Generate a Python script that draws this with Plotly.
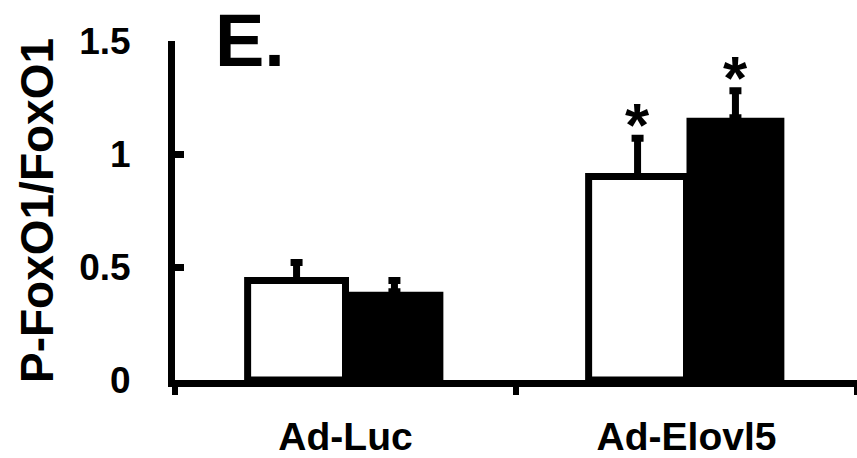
import plotly.graph_objects as go

# Phospho-FoxO1 / total FoxO1 ratio, two groups per adenovirus treatment
categories = ["Ad-Luc", "Ad-Elovl5"]
open_means = [0.44, 0.90]
open_sem = [0.08, 0.17]
filled_means = [0.39, 1.16]
filled_sem = [0.05, 0.12]
open_marks = ["", "*"]
filled_marks = ["", "*"]

y_tick_vals = [0, 0.5, 1, 1.5]
y_tick_text = ["0", "0.5", "1", "1.5"]

FONT = "Liberation Sans, Arial, sans-serif"
BW = 0.287  # bar width in category units

fig = go.Figure()

# filled bars sit right of centre; drawn first so the open bar outline lies on top
fig.add_trace(go.Bar(
    x=categories, y=filled_means, width=BW, offset=0,
    marker=dict(color="black", line=dict(color="black", width=0)),
    error_y=dict(type="data", array=filled_sem, arrayminus=[0] * len(filled_sem),
                 symmetric=False, color="black", thickness=7, width=6),
    showlegend=False,
))
fig.add_trace(go.Bar(
    x=categories, y=open_means, width=BW, offset=-BW,
    marker=dict(color="white", line=dict(color="black", width=7)),
    error_y=dict(type="data", array=open_sem, arrayminus=[0] * len(open_sem),
                 symmetric=False, color="black", thickness=7, width=6),
    showlegend=False,
))

annotations = []
for i, cat in enumerate(categories):
    for mark, mean, sem, shift in ((open_marks[i], open_means[i], open_sem[i], -BW / 2),
                                   (filled_marks[i], filled_means[i], filled_sem[i], BW / 2)):
        if mark:
            annotations.append(dict(
                x=i + shift, y=mean + sem, xref="x", yref="y",
                text=mark, showarrow=False, yanchor="bottom", yshift=-23,
                font=dict(family=FONT, size=62, color="black", weight="bold"),
            ))

# panel letter
annotations.append(dict(
    x=0.056, y=1.13, xref="paper", yref="paper", xanchor="left", yanchor="top",
    text="E.", showarrow=False,
    font=dict(family=FONT, size=74, color="black", weight="bold"),
))

fig.update_layout(
    width=857, height=458,
    margin=dict(l=175, r=0, t=41, b=72),
    paper_bgcolor="white", plot_bgcolor="white",
    barmode="overlay",
    annotations=annotations,
    font=dict(family=FONT, color="black"),
    xaxis=dict(
        type="category", range=[-0.5, 1.5], tickson="boundaries",
        ticks="outside", ticklen=8, tickwidth=6, tickcolor="black",
        showline=True, linewidth=7, linecolor="black",
        showgrid=False, zeroline=False,
        tickfont=dict(family=FONT, size=39, color="black", weight="bold"),
        ticklabelstandoff=16,
    ),
    yaxis=dict(
        range=[0, 1.5], tickvals=y_tick_vals, ticktext=y_tick_text,
        ticks="inside", ticklen=9, tickwidth=7, tickcolor="black",
        showline=True, linewidth=7, linecolor="black",
        showgrid=False, zeroline=False,
        tickfont=dict(family=FONT, size=37, color="black", weight="bold"),
        ticklabelstandoff=30,
        title=dict(text="P-FoxO1/FoxO1", standoff=14,
                   font=dict(family=FONT, size=46, color="black", weight="bold")),
    ),
)

fig.write_html("out.html")
